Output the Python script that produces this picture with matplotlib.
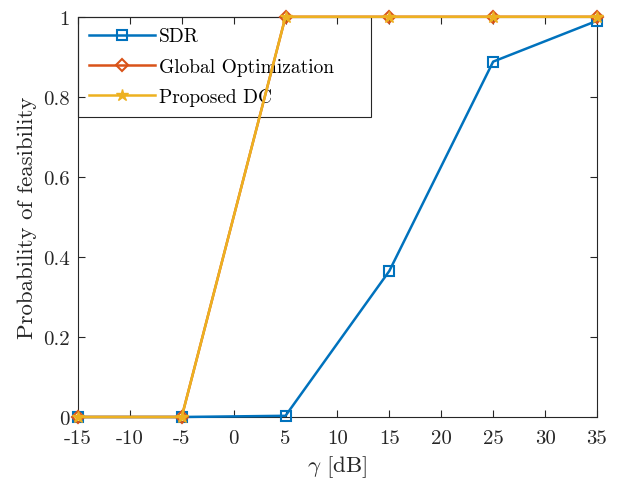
import numpy as np
import matplotlib
matplotlib.use('Agg')
from matplotlib import pyplot as plt

plt.rcParams['font.family'] = 'serif'
plt.rcParams['font.serif'] = ['cmr10']
plt.rcParams['mathtext.fontset'] = 'cm'
plt.rcParams['axes.unicode_minus'] = False

# data
gamma_db = [-15, -5, 5, 15, 25, 35]
sdr = [0.0, 0.0, 0.003, 0.365, 0.888, 0.99]
global_opt = [0.0, 0.0, 1.0, 1.0, 1.0, 1.0]
proposed_dc = [0.0, 0.0, 1.0, 1.0, 1.0, 1.0]

xticks = [-15, -10, -5, 0, 5, 10, 15, 20, 25, 30, 35]
yticks = [0, 0.2, 0.4, 0.6, 0.8, 1]
ytick_labels = ['0', '0.2', '0.4', '0.6', '0.8', '1']

fig = plt.figure(figsize=(6.18, 4.81), dpi=100)
ax = fig.add_axes([0.126, 0.131, 0.840, 0.832])

ax.plot(gamma_db, sdr, color='#0072BD', lw=1.8, marker='s', ms=6.5,
        mfc='none', mew=1.5, label='SDR', clip_on=False, zorder=3)
ax.plot(gamma_db, global_opt, color='#D95319', lw=1.8, marker='D', ms=6.5,
        mfc='none', mew=1.5, label='Global Optimization', clip_on=False, zorder=3)
ax.plot(gamma_db, proposed_dc, color='#EDB120', lw=1.8, marker='*', ms=9,
        label='Proposed DC', clip_on=False, zorder=3)

ax.set_xlim(-15, 35)
ax.set_ylim(0, 1)
ax.set_xticks(xticks)
ax.set_xticklabels([str(t) for t in xticks])
ax.set_yticks(yticks)
ax.set_yticklabels(ytick_labels)
ax.tick_params(direction='in', top=True, right=True, length=5,
               labelsize=15, colors='#262626')
ax.tick_params(axis='x', pad=9)
ax.tick_params(axis='y', pad=6)
for s in ax.spines.values():
    s.set_color('#262626')
    s.set_linewidth(0.8)

ax.set_xlabel(r'$\gamma$ [dB]', fontsize=16.5, color='#262626', labelpad=4)
ax.set_ylabel('Probability of feasibility', fontsize=16.5, color='#262626',
              labelpad=4)

leg = ax.legend(loc='upper left', fontsize=14, frameon=True, fancybox=False,
                edgecolor='#262626', framealpha=1, handlelength=3.4,
                borderpad=0.55, labelspacing=0.63, borderaxespad=0,
                bbox_to_anchor=(0, 1, 0.565, 0), mode='expand',
                handletextpad=0.2)
leg.get_frame().set_linewidth(0.8)
leg.set_zorder(1)

fig.savefig('out.png', dpi=100)
